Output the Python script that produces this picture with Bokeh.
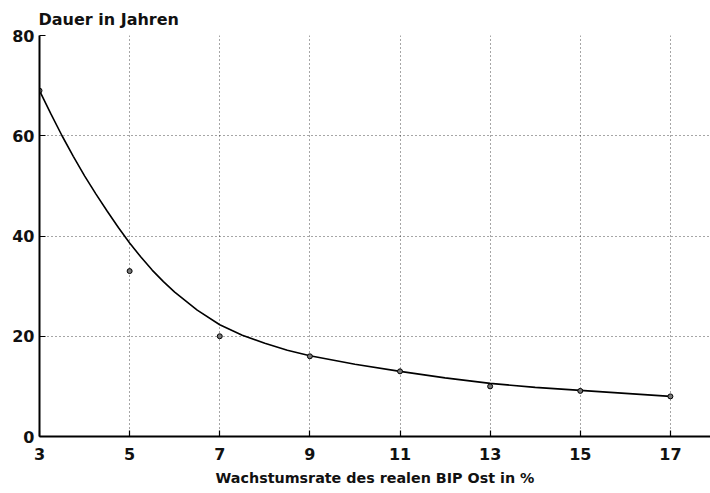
from bokeh.plotting import figure
from bokeh.models import Range1d, FixedTicker, Title
from bokeh.embed import file_html
from bokeh.resources import INLINE

# observed data points
rate = [3, 5, 7, 9, 11, 13, 15, 17]
years = [69, 33, 20, 16, 13, 10, 9.1, 8]

# fitted curve
curve_x = [3, 3.25, 3.5, 3.75, 4, 4.25, 4.5, 4.75, 5, 5.25, 5.5, 5.75, 6, 6.5, 7, 7.5, 8, 8.5, 9, 10, 11, 12, 13, 14, 15, 16, 17]
curve_y = [69, 64.4, 60.0, 55.9, 52.0, 48.4, 45.0, 41.7, 38.6, 35.8, 33.2, 30.9, 28.8, 25.2, 22.3, 20.2, 18.6, 17.2, 16.1, 14.4, 13.0, 11.7, 10.6, 9.8, 9.2, 8.6, 8.0]

x_ticks = [3, 5, 7, 9, 11, 13, 15, 17]
y_ticks = [0, 20, 40, 60, 80]

FONT = "DejaVu Sans"

p = figure(width=710, height=493, output_backend="svg", toolbar_location=None,
           x_range=Range1d(3, 17.89), y_range=Range1d(0, 80),
           min_border_left=39, min_border_right=0, min_border_top=35, min_border_bottom=57)
p.outline_line_color = None
p.background_fill_color = "white"

t = Title(text="Dauer in Jahren", align="left", offset=-1,
          text_font=FONT, text_font_size="16px", text_font_style="bold",
          text_color="#111111", standoff=14)
p.add_layout(t, "above")

p.line(curve_x, curve_y, line_color="black", line_width=1.6)
p.scatter(rate, years, size=5, marker="circle", line_color="black",
          fill_color="#777777", line_width=1)

for ax in (p.xaxis[0], p.yaxis[0]):
    ax.axis_line_color = "black"
    ax.axis_line_width = 2
    ax.major_tick_in = 6
    ax.major_tick_out = 0
    ax.major_tick_line_color = "black"
    ax.major_tick_line_width = 1.2
    ax.minor_tick_line_color = None
    ax.major_label_text_font = FONT
    ax.major_label_text_font_size = "16px"
    ax.major_label_text_font_style = "bold"
    ax.major_label_text_color = "#111111"

p.xaxis.ticker = FixedTicker(ticks=x_ticks)
p.yaxis.ticker = FixedTicker(ticks=y_ticks)
p.xaxis.major_label_standoff = 11
p.yaxis.major_label_standoff = 5
p.xaxis.axis_label = "Wachstumsrate des realen BIP Ost in %"
p.xaxis.axis_label_text_font = FONT
p.xaxis.axis_label_text_font_size = "14.3px"
p.xaxis.axis_label_text_font_style = "bold"
p.xaxis.axis_label_text_color = "#111111"
p.xaxis.axis_label_standoff = 7

for g in (p.xgrid[0], p.ygrid[0]):
    g.grid_line_color = "black"
    g.grid_line_alpha = 0.7
    g.grid_line_dash = "1 3"
    g.grid_line_width = 1
p.xgrid.ticker = FixedTicker(ticks=x_ticks)
p.ygrid.ticker = FixedTicker(ticks=y_ticks)

open("out.html", "w").write(file_html(p, INLINE))
